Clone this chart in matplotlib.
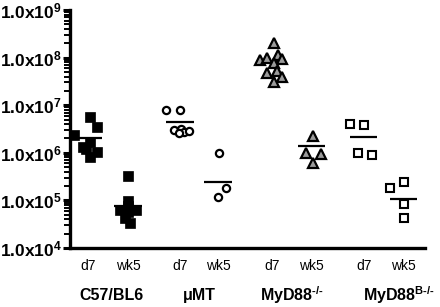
import matplotlib
matplotlib.use("Agg")
import matplotlib.pyplot as plt
from matplotlib.ticker import LogLocator, FixedLocator, NullFormatter
import numpy as np

plt.rcParams['font.family'] = ['Liberation Sans', 'DejaVu Sans']
plt.rcParams['mathtext.fontset'] = 'custom'
plt.rcParams['mathtext.rm'] = 'Liberation Sans:bold'
plt.rcParams['mathtext.it'] = 'Liberation Sans:bold'
plt.rcParams['mathtext.bf'] = 'Liberation Sans:bold'

# ---- data ----
groups = ["C57/BL6", "μMT", r"MyD88$^{\text{-/-}}$", r"MyD88$^{\text{B-/-}}$"]
timepoints = ["d7", "wk5", "d7", "wk5", "d7", "wk5", "d7", "wk5"]
col_pos = [0.0, 1.0, 2.3, 3.25, 4.6, 5.6, 6.9, 7.9]

c57_d7 = [5.6e6, 3.5e6, 2.35e6, 1.7e6, 1.32e6, 1.05e6, 8.3e5, 1.2e6]
c57_d7_dx = [0.05, 0.22, -0.35, 0.05, -0.12, 0.22, 0.05, -0.05]
c57_wk5 = [3.26e5, 9.8e4, 6.3e4, 6.3e4, 5.7e4, 4.3e4, 3.35e4, 7.6e4]
c57_wk5_dx = [0.0, 0.0, -0.2, 0.2, 0.0, -0.08, 0.05, 0.0]

umt_d7 = [7.9e6, 7.9e6, 3.0e6, 3.16e6, 2.74e6, 2.87e6, 2.6e6]
umt_d7_dx = [-0.35, 0.0, -0.15, 0.02, 0.1, 0.22, -0.02]
umt_wk5 = [1.0e6, 1.8e5, 1.18e5]
umt_wk5_dx = [0.02, 0.2, 0.0]

myd_d7 = [2.05e8, 8.9e7, 9.8e7, 1.13e8, 9.3e7, 7.7e7, 4.8e7, 5.2e7, 3.9e7, 3.1e7]
myd_d7_dx = [0.05, -0.3, -0.12, 0.15, 0.25, 0.05, -0.12, 0.12, 0.25, 0.05]
myd_wk5 = [2.24e6, 1.0e6, 9.4e5, 6.2e5]
myd_wk5_dx = [0.02, -0.15, 0.22, 0.02]

mydb_d7 = [4.0e6, 3.9e6, 1.0e6, 8.9e5]
mydb_d7_dx = [-0.35, 0.0, -0.15, 0.2]
mydb_wk5 = [1.8e5, 2.4e5, 8.3e4, 4.3e4]
mydb_wk5_dx = [-0.35, 0.0, 0.0, 0.0]

means = [2.0e6, 7.6e4, 4.4e6, 2.4e5, 8.0e7, 1.38e6, 2.1e6, 1.07e5]

ytick_exps = [4, 5, 6, 7, 8, 9]

# ---- figure ----
fig = plt.figure(figsize=(4.4, 3.07), dpi=100)
ax = fig.add_axes([70/440, 1-248/307, (425-70)/440, (248-10)/307])
ax.set_yscale('log')
ax.set_ylim(1e4, 1e9)
ax.set_xlim(-0.45, 8.43)

series = [
    (c57_d7, c57_d7_dx, dict(marker='s', ms=6.5, mfc='black', mec='black', mew=0.5)),
    (c57_wk5, c57_wk5_dx, dict(marker='s', ms=6.5, mfc='black', mec='black', mew=0.5)),
    (umt_d7, umt_d7_dx, dict(marker='o', ms=5.2, mfc='white', mec='black', mew=1.6)),
    (umt_wk5, umt_wk5_dx, dict(marker='o', ms=5.2, mfc='white', mec='black', mew=1.6)),
    (myd_d7, myd_d7_dx, dict(marker='^', ms=6.5, mfc='#9a9a9a', mec='black', mew=1.6)),
    (myd_wk5, myd_wk5_dx, dict(marker='^', ms=6.5, mfc='#9a9a9a', mec='black', mew=1.6)),
    (mydb_d7, mydb_d7_dx, dict(marker='s', ms=5.6, mfc='white', mec='black', mew=1.5)),
    (mydb_wk5, mydb_wk5_dx, dict(marker='s', ms=5.6, mfc='white', mec='black', mew=1.5)),
]
for i, (vals, dx, style) in enumerate(series):
    xs = [col_pos[i] + d for d in dx]
    ax.plot(xs, vals, linestyle='none', zorder=3, **style)
    ax.hlines(means[i], col_pos[i] - 0.34, col_pos[i] + 0.34, colors='black',
              linewidth=1.6, zorder=2)

# spines
for s in ['top', 'right']:
    ax.spines[s].set_visible(False)
ax.spines['left'].set_linewidth(2.4)
ax.spines['bottom'].set_linewidth(2.4)

# y ticks
ax.yaxis.set_major_locator(FixedLocator([10.0**e for e in ytick_exps]))
ax.set_yticklabels(['1.0x10$^{%d}$' % e for e in ytick_exps], fontweight='bold')
ax.yaxis.set_minor_locator(LogLocator(base=10, subs=np.arange(2, 10)))
ax.yaxis.set_minor_formatter(NullFormatter())
ax.tick_params(axis='y', which='major', length=5, width=2.2, labelsize=12.5, pad=1)
ax.tick_params(axis='y', which='minor', length=4, width=1.4)

# x ticks
ax.set_xticks(col_pos)
ax.set_xticklabels(timepoints)
ax.tick_params(axis='x', which='both', length=0, labelsize=10, pad=8)

# group labels
grp_centers = [(col_pos[0] + col_pos[1]) / 2 + 0.08, (col_pos[2] + col_pos[3]) / 2,
               (col_pos[4] + col_pos[5]) / 2, (col_pos[6] + col_pos[7]) / 2 + 0.38]
for gx, g in zip(grp_centers, groups):
    ax.text(gx, -0.20, g, transform=ax.get_xaxis_transform(), ha='center',
            va='center', fontsize=11.5, fontweight='bold')

fig.savefig("out.png", dpi=100)
